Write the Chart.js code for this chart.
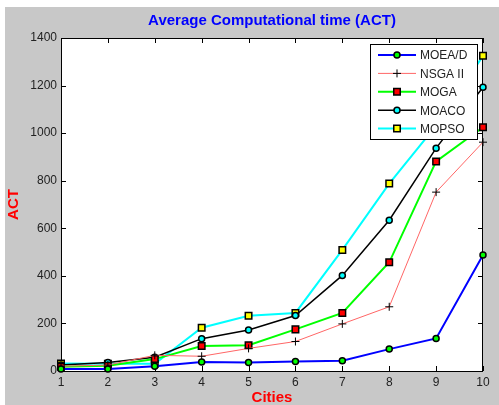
<!DOCTYPE html>
<html>
<head>
<meta charset="utf-8">
<script src="https://cdn.jsdelivr.net/npm/chart.js@4.4.0/dist/chart.umd.min.js"></script>
<style>
  html, body { margin: 0; padding: 0; background: #fff; }
</style>
</head>
<body>
<canvas id="grafico-act" width="499" height="405"></canvas>
<script>
// Datos
const ciudades = [1, 2, 3, 4, 5, 6, 7, 8, 9, 10];
const moead = [8, 8, 20, 38, 36, 40, 43, 92, 137, 488];
const nsga2 = [20, 25, 66, 62, 95, 124, 198, 270, 752, 962];
const moga = [18, 22, 50, 105, 108, 175, 244, 457, 881, 1025];
const moaco = [25, 36, 58, 136, 172, 233, 402, 634, 937, 1193];
const mopso = [32, 30, 30, 182, 232, 244, 509, 788, 1032, 1325];
const marcasY = [0, 200, 400, 600, 800, 1000, 1200, 1400];

const fuente = "'Liberation Sans', Arial, sans-serif";
Chart.defaults.font.family = fuente;

// Fondo gris de la figura y blanco del área de trazado
const fondo = {
  id: "fondo",
  beforeDraw(chart) {
    const { ctx, chartArea: a } = chart;
    ctx.save();
    ctx.fillStyle = "#ffffff";
    ctx.fillRect(0, 0, chart.width, chart.height);
    ctx.fillStyle = "#c8c8c8";
    ctx.fillRect(5, 7, chart.width - 5, chart.height - 7);
    ctx.fillStyle = "#ffffff";
    ctx.fillRect(a.left, a.top, a.right - a.left, a.bottom - a.top);
    ctx.restore();
  },
  // Marco y marcas hacia dentro (estilo MATLAB)
  beforeDatasetsDraw(chart) {
    const { ctx, chartArea: a, scales } = chart;
    ctx.save();
    ctx.strokeStyle = "#000";
    ctx.lineWidth = 1;
    ctx.strokeRect(a.left + 0.5, a.top + 0.5, a.right - a.left - 1, a.bottom - a.top);
    ctx.beginPath();
    marcasY.forEach((v) => {
      const y = Math.round(scales.y.getPixelForValue(v)) + 0.5;
      ctx.moveTo(a.left, y); ctx.lineTo(a.left + 5, y);
      ctx.moveTo(a.right, y); ctx.lineTo(a.right - 5, y);
    });
    ciudades.forEach((c, i) => {
      const x = Math.round(scales.x.getPixelForTick(i)) + 0.5;
      ctx.moveTo(x, a.bottom); ctx.lineTo(x, a.bottom - 5);
      ctx.moveTo(x, a.top); ctx.lineTo(x, a.top + 5);
    });
    ctx.stroke();
    ctx.restore();
  },
  // Leyenda dentro del área, arriba a la derecha
  afterDraw(chart) {
    const { ctx } = chart;
    const x0 = 370, y0 = 44, w = 107, h = 95;
    ctx.save();
    ctx.fillStyle = "#fff";
    ctx.fillRect(x0, y0, w, h);
    ctx.strokeStyle = "#000";
    ctx.lineWidth = 1;
    ctx.strokeRect(x0 + 0.5, y0 + 0.5, w, h);
    chart.data.datasets.forEach((ds, i) => {
      const y = y0 + 11 + i * 18.4;
      ctx.strokeStyle = ds.borderColor;
      ctx.lineWidth = ds.borderWidth;
      ctx.beginPath();
      ctx.moveTo(378, y); ctx.lineTo(416, y);
      ctx.stroke();
      ctx.fillStyle = ds.pointBackgroundColor;
      ctx.strokeStyle = ds.pointBorderColor;
      ctx.lineWidth = ds.pointBorderWidth;
      Chart.helpers.drawPoint(ctx, {
        pointStyle: ds.pointStyle,
        radius: ds.pointRadius,
        borderWidth: ds.pointBorderWidth,
        rotation: 0,
      }, 397, y);
      ctx.fillStyle = "#222";
      ctx.font = "12px " + fuente;
      ctx.textBaseline = "middle";
      ctx.fillText(ds.label, 420, y + 1);
    });
    ctx.restore();
  },
};

const serie = (label, data, color, ancho, estilo, radio, relleno) => ({
  label,
  data,
  borderColor: color,
  borderWidth: ancho,
  pointStyle: estilo,
  pointRadius: radio,
  pointBackgroundColor: relleno,
  pointBorderColor: "#000",
  pointBorderWidth: 1.5,
  tension: 0,
  clip: false,
});

new Chart(document.getElementById("grafico-act"), {
  type: "line",
  data: {
    labels: ciudades,
    datasets: [
      serie("MOEA/D", moead, "#0000ff", 2, "circle", 3, "#00ff00"),
      { ...serie("NSGA II", nsga2, "#ff6666", 1, "cross", 4, "#000"), pointBorderWidth: 1 },
      serie("MOGA", moga, "#00ff00", 2, "rect", 4.6, "#ff0000"),
      serie("MOACO", moaco, "#000000", 1.5, "circle", 3, "#00ffff"),
      serie("MOPSO", mopso, "#00ffff", 2, "rect", 4.6, "#ffff00"),
    ],
  },
  options: {
    responsive: false,
    animation: false,
    devicePixelRatio: 1,
    layout: { padding: { left: 0, right: 16, top: 0, bottom: 0 } },
    plugins: {
      legend: { display: false },
      tooltip: { enabled: false },
      title: {
        display: true,
        fullSize: false,
        text: "Average Computational time (ACT)",
        color: "#0000ff",
        font: { size: 15, weight: "bold", lineHeight: 1.2 },
        padding: { top: 12, bottom: 8 },
      },
    },
    scales: {
      x: {
        type: "category",
        grid: { display: false, drawTicks: false },
        border: { display: false },
        ticks: { color: "#222", font: { size: 12 }, padding: 4, autoSkip: false, maxRotation: 0 },
        title: {
          display: true,
          text: "Cities",
          color: "#ff0000",
          font: { size: 15, weight: "bold", lineHeight: 1 },
          padding: { top: 0, bottom: 0 },
        },
        afterFit: (s) => { s.height = 34; },
      },
      y: {
        min: 0,
        max: 1400,
        grid: { display: false, drawTicks: false },
        border: { display: false },
        ticks: {
          stepSize: 200,
          color: "#222",
          font: { size: 12 },
          padding: 4,
          callback: (v) => String(v),
        },
        title: {
          display: true,
          text: "ACT",
          color: "#ff0000",
          font: { size: 15, weight: "bold", lineHeight: 1 },
          padding: { top: 6, bottom: 0 },
        },
        afterFit: (s) => { s.width = 61; },
      },
    },
  },
  plugins: [fondo],
});
</script>
</body>
</html>
